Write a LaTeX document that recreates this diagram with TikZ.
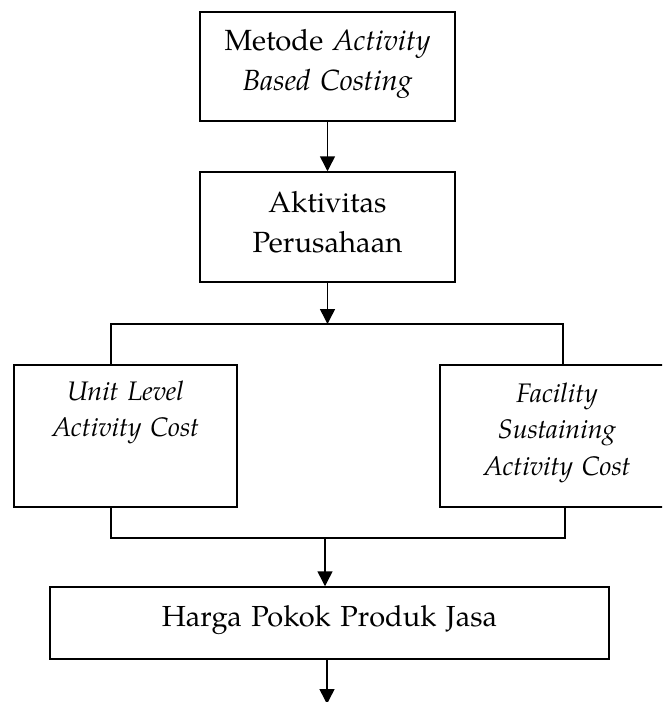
\documentclass[tikz,border=0pt]{standalone}
\usepackage{fontspec}
\setmainfont{TeX Gyre Pagella}
\usetikzlibrary{arrows.meta}
\tikzset{
  box/.style={draw, line width=1.5pt, rectangle, inner sep=0pt, anchor=center},
  conn/.style={line width=1.5pt},
  arr/.style={line width=1.5pt, -{Triangle[length=15pt,width=15pt]}},
  txtbig/.style={anchor=base, align=center, inner sep=0pt, font=\fontsize{29.2}{40.5}\selectfont},
  txtmid/.style={anchor=base, align=center, inner sep=0pt, font=\fontsize{26.8}{36.5}\selectfont},
  txtlow/.style={anchor=base, align=center, inner sep=0pt, font=\fontsize{29}{40}\selectfont},
}
\begin{document}
\begin{tikzpicture}[x=1pt,y=-1pt]
\useasboundingbox (0,0) rectangle (662,702);
\clip (0,0) rectangle (662,702);
% boxes
\node[box, minimum width=255pt, minimum height=109pt] (b1) at (327.5,66.5) {};
\node[box, minimum width=255pt, minimum height=110pt] (b2) at (327.5,227) {};
\node[box, minimum width=223pt, minimum height=142pt] (bl) at (125.5,436) {};
\node[box, minimum width=234pt, minimum height=142pt] (br) at (557,436) {};
\node[box, minimum width=559pt, minimum height=72pt] (b5) at (329.5,623) {};
% texts
\node[txtbig, text width=250pt] (t1) at (327.5,50) {Metode \textit{Activity}\\\textit{Based Costing}};
\node[txtbig, text width=250pt] (t2) at (327.5,212) {Aktivitas\\Perusahaan};
\node[txtmid, text width=220pt] (t3) at (125.5,400) {\textit{Unit Level}\\\textit{Activity Cost}};
\node[txtmid, text width=230pt] (t4) at (557,402) {\textit{Facility}\\\textit{Sustaining}\\\textit{Activity Cost}};
\node[txtlow, text width=550pt] (t5) at (329.5,626) {Harga Pokok Produk Jasa};
% bracket coordinates
\coordinate (tl) at (111,324);
\coordinate (tr) at (563,324);
\coordinate (tm) at (327.5,324);
\coordinate (ll) at (111,538);
\coordinate (lr) at (565,538);
\coordinate (lm) at (325,538);
\coordinate (end) at (327,704);
% connectors
\draw[arr] (b1.south) -- (b2.north);
\draw[arr] (b2.south) -- (tm);
\draw[conn] (tl |- bl.north) -- (tl) -- (tr) -- (tr |- br.north);
\draw[conn] (ll |- bl.south) -- (ll) -- (lr) -- (lr |- br.south);
\draw[arr] (lm) -- (lm |- b5.north);
\draw[arr] (b5.south -| end) -- (end);
\end{tikzpicture}
\end{document}
